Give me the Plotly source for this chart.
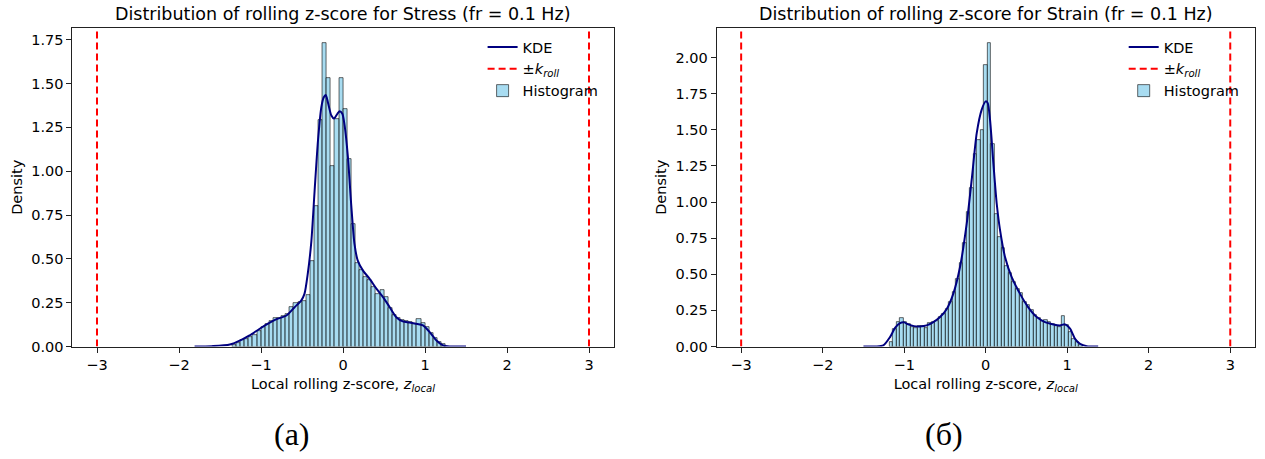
import plotly.graph_objects as go

# ---------------- data ----------------
K_ROLL = 3.0

STRESS_BIN_START = -1.35
STRESS_BIN_WIDTH = 0.05
STRESS_HIST = [0.009, 0.02, 0.037, 0.04, 0.056, 0.066, 0.088, 0.109, 0.128, 0.147,
               0.163, 0.165, 0.174, 0.185, 0.223, 0.246, 0.256, 0.26, 0.294, 0.488,
               0.80, 1.29, 1.73, 1.53, 1.03, 1.30, 1.53, 1.355, 1.07, 0.70,
               0.478, 0.436, 0.395, 0.38, 0.34, 0.30, 0.322, 0.284, 0.218, 0.18,
               0.16, 0.151, 0.147, 0.142, 0.126, 0.155, 0.132, 0.109, 0.079, 0.05,
               0.028, 0.014]
STRESS_KDE_X = [-1.81, -1.60, -1.38, -1.24, -1.14, -1.02, -0.915, -0.81, -0.69, -0.59,
                -0.51, -0.47, -0.43, -0.386, -0.346, -0.305, -0.264, -0.236, -0.21, -0.183,
                -0.142, -0.11, -0.069, -0.04, -0.008, 0.02, 0.06, 0.10, 0.14, 0.18,
                0.244, 0.325, 0.407, 0.49, 0.57, 0.65, 0.73, 0.81, 0.89, 0.976,
                1.057, 1.14, 1.22, 1.30, 1.50]
STRESS_KDE_Y = [0.0, 0.002, 0.011, 0.038, 0.063, 0.10, 0.13, 0.156, 0.177, 0.224,
                0.262, 0.30, 0.414, 0.60, 0.89, 1.175, 1.365, 1.42, 1.435, 1.39,
                1.317, 1.30, 1.327, 1.342, 1.327, 1.26, 1.08, 0.81, 0.585, 0.49,
                0.433, 0.386, 0.33, 0.28, 0.224, 0.167, 0.143, 0.137, 0.13, 0.12,
                0.082, 0.034, 0.006, 0.0, 0.0]

STRAIN_BIN_START = -1.18
STRAIN_BIN_WIDTH = 0.043
STRAIN_HIST = [0.03, 0.12, 0.17, 0.20, 0.17, 0.155, 0.135, 0.13, 0.145, 0.145,
               0.13, 0.165, 0.17, 0.175, 0.205, 0.225, 0.26, 0.31, 0.38, 0.47,
               0.58, 0.72, 0.93, 1.10, 1.33, 1.43, 1.50, 1.95, 2.10, 1.40,
               0.92, 0.76, 0.68, 0.56, 0.51, 0.45, 0.40, 0.37, 0.31, 0.29,
               0.25, 0.22, 0.20, 0.18, 0.185, 0.17, 0.157, 0.14, 0.134, 0.21,
               0.146, 0.10, 0.055, 0.03, 0.01]
STRAIN_KDE_X = [-1.50, -1.35, -1.256, -1.174, -1.11, -1.05, -1.0, -0.95, -0.88, -0.806,
                -0.724, -0.642, -0.56, -0.478, -0.397, -0.315, -0.233, -0.172, -0.11, -0.049,
                0.0, 0.025, 0.053, 0.094, 0.135, 0.176, 0.237, 0.319, 0.42, 0.52,
                0.626, 0.728, 0.83, 0.91, 0.973, 1.035, 1.096, 1.157, 1.24, 1.38]
STRAIN_KDE_Y = [0.0, 0.0, 0.007, 0.065, 0.13, 0.162, 0.167, 0.153, 0.141, 0.139,
                0.146, 0.169, 0.204, 0.26, 0.366, 0.55, 0.85, 1.153, 1.477, 1.64,
                1.697, 1.685, 1.57, 1.27, 0.99, 0.806, 0.62, 0.48, 0.366, 0.273,
                0.204, 0.169, 0.153, 0.146, 0.153, 0.123, 0.053, 0.019, 0.002, 0.0]

TITLES = ["Distribution of rolling z-score for Stress (fr = 0.1 Hz)",
          "Distribution of rolling z-score for Strain (fr = 0.1 Hz)"]
PANEL_LABELS = ["(a)", "(б)"]
X_TICKS = [-3, -2, -1, 0, 1, 2, 3]
STRESS_Y_TICKS = [0.0, 0.25, 0.5, 0.75, 1.0, 1.25, 1.5, 1.75]
STRAIN_Y_TICKS = [0.0, 0.25, 0.5, 0.75, 1.0, 1.25, 1.5, 1.75, 2.0]

# ---------------- figure ----------------
W, H = 1265, 459
OFF = 0  # page body margin removed via post_script
FONT = "DejaVu Sans"
FS = 14.5
BAR_FILL = "rgba(135,206,235,0.72)"
KDE_COLOR = "#000080"


def px_x(s):
    return (s - OFF) / W


def px_y(s):
    return (H - (s - OFF)) / H


panels = [
    dict(start=STRESS_BIN_START, width=STRESS_BIN_WIDTH, hist=STRESS_HIST,
         kx=STRESS_KDE_X, ky=STRESS_KDE_Y, yticks=STRESS_Y_TICKS,
         dom=[72.4, 613.6], xa="x", ya="y", legend="legend", label_x=292),
    dict(start=STRAIN_BIN_START, width=STRAIN_BIN_WIDTH, hist=STRAIN_HIST,
         kx=STRAIN_KDE_X, ky=STRAIN_KDE_Y, yticks=STRAIN_Y_TICKS,
         dom=[716.7, 1254.7], xa="x2", ya="y2", legend="legend2", label_x=944),
]

fig = go.Figure()
y_bot, y_top = 346.5, 28.0
ydom = [px_y(y_bot), px_y(y_top)]
xr = [-K_ROLL * 1.1, K_ROLL * 1.1]

for i, p in enumerate(panels):
    centers = [p["start"] + p["width"] * (k + 0.5) for k in range(len(p["hist"]))]
    ymax = max(p["hist"]) * 1.05
    fig.add_trace(go.Bar(
        x=centers, y=p["hist"], width=p["width"], name="Histogram",
        marker=dict(color=BAR_FILL, line=dict(color="rgba(0,0,0,0.85)", width=0.7)),
        xaxis=p["xa"], yaxis=p["ya"], legend=p["legend"], legendrank=3))
    fig.add_trace(go.Scatter(
        x=[-K_ROLL, -K_ROLL, None, K_ROLL, K_ROLL], y=[0, ymax, None, 0, ymax],
        mode="lines", name="±<i>k</i><sub><i>roll</i></sub>",
        line=dict(color="red", width=2, dash="7px,4px"),
        xaxis=p["xa"], yaxis=p["ya"], legend=p["legend"], legendrank=2))
    fig.add_trace(go.Scatter(
        x=p["kx"], y=p["ky"], mode="lines", name="KDE",
        line=dict(color=KDE_COLOR, width=2, shape="spline", smoothing=0.7),
        xaxis=p["xa"], yaxis=p["ya"], legend=p["legend"], legendrank=1))

    sfx = "" if i == 0 else "2"
    axis_common = dict(showline=True, linecolor="#222", linewidth=1, mirror=True,
                       ticks="outside", ticklen=5, tickcolor="#222", showgrid=False,
                       zeroline=False, automargin=False,
                       tickfont=dict(family=FONT, size=FS, color="black"))
    fig.update_layout(**{
        "xaxis" + sfx: dict(domain=[px_x(p["dom"][0]), px_x(p["dom"][1])], range=xr,
                            tickvals=X_TICKS, anchor="y" + sfx,
                            title=dict(text="Local rolling z-score, <i>z</i><sub><i>local</i></sub>",
                                       font=dict(family=FONT, size=FS, color="black"),
                                       standoff=6),
                            **axis_common),
        "yaxis" + sfx: dict(domain=ydom, range=[0, ymax], tickvals=p["yticks"],
                            tickformat=".2f", anchor="x" + sfx,
                            title=dict(text="Density", font=dict(family=FONT, size=FS, color="black"),
                                       standoff=5),
                            **axis_common),
        p["legend"]: dict(x=px_x(p["dom"][1] - 131), y=px_y(31), xanchor="left", yanchor="top",
                          bgcolor="rgba(0,0,0,0)", borderwidth=0,
                          font=dict(family=FONT, size=FS, color="black"),
                          tracegroupgap=0),
    })
    cx = (p["dom"][0] + p["dom"][1]) / 2
    fig.add_annotation(text=TITLES[i], x=px_x(cx), y=px_y(14), xref="paper", yref="paper",
                       xanchor="center", yanchor="middle",
                       showarrow=False, font=dict(family=FONT, size=17.5, color="black"))
    fig.add_annotation(text=PANEL_LABELS[i], x=px_x(p["label_x"]),
                       y=px_y(434), xref="paper", yref="paper",
                       xanchor="center", yanchor="middle",
                       showarrow=False, font=dict(family="Liberation Serif", size=32, color="black"))

fig.update_layout(width=W, height=H, margin=dict(l=0, r=0, t=0, b=0),
                  paper_bgcolor="white", plot_bgcolor="white",
                  bargap=0, barmode="overlay", showlegend=True)

fig.write_html("out.html", config={"displayModeBar": False},
               post_script="document.body.style.margin='0';")
